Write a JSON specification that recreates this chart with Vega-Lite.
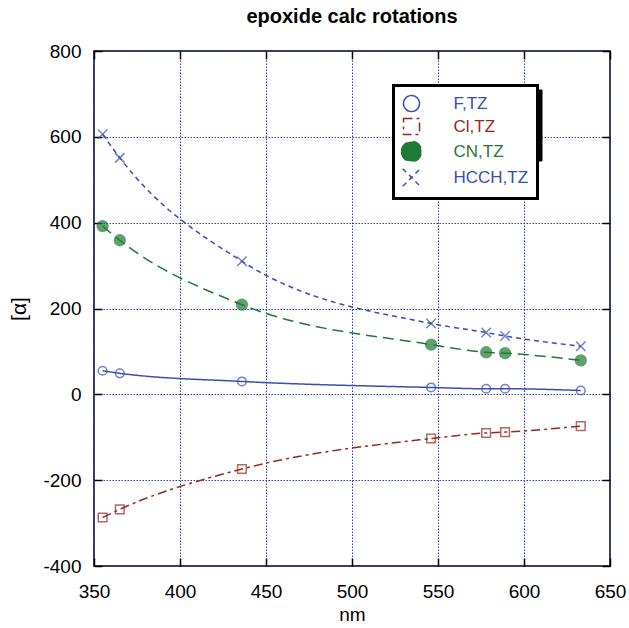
{
  "$schema": "https://vega.github.io/schema/vega-lite/v6.json",
  "width": 516,
  "height": 515,
  "autosize": {"type": "none"},
  "padding": {"left": 94, "top": 51, "right": 19, "bottom": 62},
  "title": {"text": "epoxide calc rotations", "font": "Liberation Sans", "fontSize": 20, "fontWeight": "bold", "color": "black", "anchor": "middle", "offset": -1, "baseline": "alphabetic"},
  "config": {
    "view": {"stroke": "black", "strokeWidth": 1.5},
    "axis": {
      "labelFont": "Liberation Sans", "labelFontSize": 19, "labelColor": "black", "labelFlush": false,
      "titleFont": "Liberation Sans", "titleFontSize": 19, "titleFontWeight": "normal", "titleColor": "black",
      "domain": false, "tickColor": "black", "tickWidth": 1.5
    }
  },
  "data": {"values": [
    {"nm": 355, "series": "F,TZ", "value": 55},
    {"nm": 365, "series": "F,TZ", "value": 49},
    {"nm": 436, "series": "F,TZ", "value": 30},
    {"nm": 546, "series": "F,TZ", "value": 16},
    {"nm": 578, "series": "F,TZ", "value": 13},
    {"nm": 589, "series": "F,TZ", "value": 13},
    {"nm": 633, "series": "F,TZ", "value": 9},
    {"nm": 355, "series": "Cl,TZ", "value": -287},
    {"nm": 365, "series": "Cl,TZ", "value": -268},
    {"nm": 436, "series": "Cl,TZ", "value": -174},
    {"nm": 546, "series": "Cl,TZ", "value": -103},
    {"nm": 578, "series": "Cl,TZ", "value": -90},
    {"nm": 589, "series": "Cl,TZ", "value": -88},
    {"nm": 633, "series": "Cl,TZ", "value": -74},
    {"nm": 355, "series": "CN,TZ", "value": 392},
    {"nm": 365, "series": "CN,TZ", "value": 359},
    {"nm": 436, "series": "CN,TZ", "value": 209},
    {"nm": 546, "series": "CN,TZ", "value": 116},
    {"nm": 578, "series": "CN,TZ", "value": 98},
    {"nm": 589, "series": "CN,TZ", "value": 96},
    {"nm": 633, "series": "CN,TZ", "value": 79},
    {"nm": 355, "series": "HCCH,TZ", "value": 606},
    {"nm": 365, "series": "HCCH,TZ", "value": 551},
    {"nm": 436, "series": "HCCH,TZ", "value": 310},
    {"nm": 546, "series": "HCCH,TZ", "value": 165},
    {"nm": 578, "series": "HCCH,TZ", "value": 144},
    {"nm": 589, "series": "HCCH,TZ", "value": 136},
    {"nm": 633, "series": "HCCH,TZ", "value": 112}
  ]},
  "layer": [
    {
      "mark": {"type": "line", "interpolate": "monotone", "strokeWidth": 1.5},
      "encoding": {
        "x": {"field": "nm", "type": "quantitative", "scale": {"domain": [350, 650], "nice": false, "zero": false},
          "axis": {"orient": "bottom", "values": [350, 400, 450, 500, 550, 600, 650], "title": null, "labels": false, "ticks": false, "grid": true, "gridColor": "#2a3cc0", "gridDash": [1.5, 1.5], "gridWidth": 1}},
        "y": {"field": "value", "type": "quantitative", "scale": {"domain": [-400, 800], "nice": false, "zero": false},
          "axis": {"orient": "left", "values": [-400, -200, 0, 200, 400, 600, 800], "title": null, "labels": false, "ticks": false, "grid": true, "gridColor": "#2a3cc0", "gridDash": [1.5, 1.5], "gridWidth": 1}},
        "stroke": {"field": "series", "type": "nominal", "scale": {"domain": ["F,TZ", "Cl,TZ", "CN,TZ", "HCCH,TZ"], "range": ["#3a4db5", "#962a20", "#1f7a34", "#3a4db5"]},
          "legend": {"orient": "none", "legendX": 299.5, "legendY": 34.5, "zindex": 1, "title": null, "fillColor": "white", "strokeColor": "black", "padding": 9, "rowPadding": 1, "symbolSize": 256, "symbolStrokeWidth": 1.5, "symbolOpacity": 1, "labelFont": "Liberation Sans", "labelFontSize": 17, "labelOffset": 33,
            "encode": {
              "legend": {"update": {"strokeWidth": {"value": 3}}},
              "symbols": {"update": {
                "shape": {"signal": "datum.value === 'F,TZ' ? 'M-1,0H1.5M2.5,0H5M1.5,0A0.5,0.5 0 1,1 2.5,0A0.5,0.5 0 1,1 1.5,0Z' : datum.value === 'Cl,TZ' ? 'M0.5,0H5M1.5,-0.5H2.5V0.5H1.5Z' : datum.value === 'CN,TZ' ? 'M0.4,0H1.4M2.6,0H5M1.4,0A0.6,0.6 0 1,1 2.6,0A0.6,0.6 0 1,1 1.4,0Z' : 'M-1,0H-0.4M0,0H0.6M3.4,0H4M4.5,0H5M1.4,-0.6L2.6,0.6M1.4,0.6L2.6,-0.6'"},
                "stroke": {"scale": "stroke", "field": "value"},
                "fill": {"scale": "fill", "field": "value"},
                "strokeDash": {"value": [1, 0]},
                "opacity": {"value": 1},
                "size": {"value": 256},
                "strokeWidth": {"value": 1.5}}},
              "labels": {"update": {"fill": {"scale": "stroke", "field": "value"}}}
            }}},
        "strokeDash": {"field": "series", "type": "nominal", "scale": {"domain": ["F,TZ", "Cl,TZ", "CN,TZ", "HCCH,TZ"], "range": [[1, 0], [9, 4, 3, 4], [11, 6], [5, 4]]},
          "legend": {"orient": "none", "legendX": 299.5, "legendY": 34.5, "zindex": 1, "title": null, "fillColor": "white", "strokeColor": "black", "padding": 9, "rowPadding": 1, "symbolSize": 256, "symbolStrokeWidth": 1.5, "symbolOpacity": 1, "labelFont": "Liberation Sans", "labelFontSize": 17, "labelOffset": 33,
            "encode": {
              "legend": {"update": {"strokeWidth": {"value": 3}}},
              "symbols": {"update": {
                "shape": {"signal": "datum.value === 'F,TZ' ? 'M-1,0H1.5M2.5,0H5M1.5,0A0.5,0.5 0 1,1 2.5,0A0.5,0.5 0 1,1 1.5,0Z' : datum.value === 'Cl,TZ' ? 'M0.5,0H5M1.5,-0.5H2.5V0.5H1.5Z' : datum.value === 'CN,TZ' ? 'M0.4,0H1.4M2.6,0H5M1.4,0A0.6,0.6 0 1,1 2.6,0A0.6,0.6 0 1,1 1.4,0Z' : 'M-1,0H-0.4M0,0H0.6M3.4,0H4M4.5,0H5M1.4,-0.6L2.6,0.6M1.4,0.6L2.6,-0.6'"},
                "stroke": {"scale": "stroke", "field": "value"},
                "fill": {"scale": "fill", "field": "value"},
                "strokeDash": {"value": [1, 0]},
                "opacity": {"value": 1},
                "size": {"value": 256},
                "strokeWidth": {"value": 1.5}}},
              "labels": {"update": {"fill": {"scale": "stroke", "field": "value"}}}
            }}}
      }
    },
    {
      "mark": {"type": "point", "strokeWidth": 1.5, "filled": true, "size": 75},
      "encoding": {
        "x": {"field": "nm", "type": "quantitative", "axis": {"orient": "bottom", "offset": -8, "values": [350, 400, 450, 500, 550, 600, 650], "title": "nm", "grid": false, "tickSize": 8, "labelPadding": 16, "titlePadding": 4}},
        "y": {"field": "value", "type": "quantitative", "axis": {"orient": "left", "offset": -8, "values": [-400, -200, 0, 200, 400, 600, 800], "title": "[α]", "titleFontSize": 21, "grid": false, "tickSize": 8, "labelPadding": 13, "titlePadding": 13, "labelExpr": "datum.value < 0 ? '-' + abs(datum.value) : '' + datum.value"}},
        "stroke": {"field": "series", "type": "nominal"},
        "fill": {"field": "series", "type": "nominal", "scale": {"domain": ["F,TZ", "Cl,TZ", "CN,TZ", "HCCH,TZ"], "range": ["transparent", "transparent", "#1f7a34", "transparent"]},
          "legend": {"orient": "none", "legendX": 299.5, "legendY": 34.5, "zindex": 1, "title": null, "fillColor": "white", "strokeColor": "black", "padding": 9, "rowPadding": 1, "symbolSize": 256, "symbolStrokeWidth": 1.5, "symbolOpacity": 1, "labelFont": "Liberation Sans", "labelFontSize": 17, "labelOffset": 33,
            "encode": {
              "legend": {"update": {"strokeWidth": {"value": 3}}},
              "symbols": {"update": {
                "shape": {"signal": "datum.value === 'F,TZ' ? 'M-1,0H1.5M2.5,0H5M1.5,0A0.5,0.5 0 1,1 2.5,0A0.5,0.5 0 1,1 1.5,0Z' : datum.value === 'Cl,TZ' ? 'M0.5,0H5M1.5,-0.5H2.5V0.5H1.5Z' : datum.value === 'CN,TZ' ? 'M0.4,0H1.4M2.6,0H5M1.4,0A0.6,0.6 0 1,1 2.6,0A0.6,0.6 0 1,1 1.4,0Z' : 'M-1,0H-0.4M0,0H0.6M3.4,0H4M4.5,0H5M1.4,-0.6L2.6,0.6M1.4,0.6L2.6,-0.6'"},
                "stroke": {"scale": "stroke", "field": "value"},
                "fill": {"scale": "fill", "field": "value"},
                "strokeDash": {"value": [1, 0]},
                "opacity": {"value": 1},
                "size": {"value": 256},
                "strokeWidth": {"value": 1.5}}},
              "labels": {"update": {"fill": {"scale": "stroke", "field": "value"}}}
            }}},
        "shape": {"field": "series", "type": "nominal", "scale": {"domain": ["F,TZ", "Cl,TZ", "CN,TZ", "HCCH,TZ"], "range": ["circle", "square", "M-1.25,0A1.25,1.25 0 1,1 1.25,0A1.25,1.25 0 1,1 -1.25,0Z", "M-1.1,-1.1L1.1,1.1M-1.1,1.1L1.1,-1.1"]},
          "legend": {"orient": "none", "legendX": 299.5, "legendY": 34.5, "zindex": 1, "title": null, "fillColor": "white", "strokeColor": "black", "padding": 9, "rowPadding": 1, "symbolSize": 256, "symbolStrokeWidth": 1.5, "symbolOpacity": 1, "labelFont": "Liberation Sans", "labelFontSize": 17, "labelOffset": 33,
            "encode": {
              "legend": {"update": {"strokeWidth": {"value": 3}}},
              "symbols": {"update": {
                "shape": {"signal": "datum.value === 'F,TZ' ? 'M-1,0H1.5M2.5,0H5M1.5,0A0.5,0.5 0 1,1 2.5,0A0.5,0.5 0 1,1 1.5,0Z' : datum.value === 'Cl,TZ' ? 'M0.5,0H5M1.5,-0.5H2.5V0.5H1.5Z' : datum.value === 'CN,TZ' ? 'M0.4,0H1.4M2.6,0H5M1.4,0A0.6,0.6 0 1,1 2.6,0A0.6,0.6 0 1,1 1.4,0Z' : 'M-1,0H-0.4M0,0H0.6M3.4,0H4M4.5,0H5M1.4,-0.6L2.6,0.6M1.4,0.6L2.6,-0.6'"},
                "stroke": {"scale": "stroke", "field": "value"},
                "fill": {"scale": "fill", "field": "value"},
                "strokeDash": {"value": [1, 0]},
                "opacity": {"value": 1},
                "size": {"value": 256},
                "strokeWidth": {"value": 1.5}}},
              "labels": {"update": {"fill": {"scale": "stroke", "field": "value"}}}
            }}}
      }
    },
    {
      "mark": {"type": "point", "opacity": 0},
      "encoding": {
        "x": {"field": "nm", "type": "quantitative", "axis": {"orient": "top", "offset": -8, "values": [350, 400, 450, 500, 550, 600, 650], "labels": false, "title": null, "grid": false, "tickSize": 8}},
        "y": {"field": "value", "type": "quantitative", "axis": {"orient": "right", "offset": -8, "values": [-400, -200, 0, 200, 400, 600, 800], "labels": false, "title": null, "grid": false, "tickSize": 8}}
      }
    },
    {
      "data": {"values": [
        {"series": "F,TZ"},
        {"series": "Cl,TZ"},
        {"series": "CN,TZ"},
        {"series": "HCCH,TZ"}
      ]},
      "mark": {"type": "point"},
      "encoding": {
        "opacity": {"field": "series", "type": "ordinal", "scale": {"range": [0, 0]},
          "legend": {"orient": "none", "legendX": 303.5, "legendY": 38.5, "zindex": 0, "title": null, "fillColor": "black", "strokeColor": "black", "padding": 9, "rowPadding": 1, "symbolSize": 256, "symbolType": "circle", "symbolStrokeWidth": 1.5, "symbolOpacity": 0, "labelOpacity": 0, "labelFont": "Liberation Sans", "labelFontSize": 17, "labelOffset": 33,
            "encode": {"legend": {"update": {"strokeWidth": {"value": 3}}}, "symbols": {"update": {"opacity": {"value": 0}}}}}}
      }
    }
  ],
  "resolve": {"axis": {"x": "independent", "y": "independent"}}
}
